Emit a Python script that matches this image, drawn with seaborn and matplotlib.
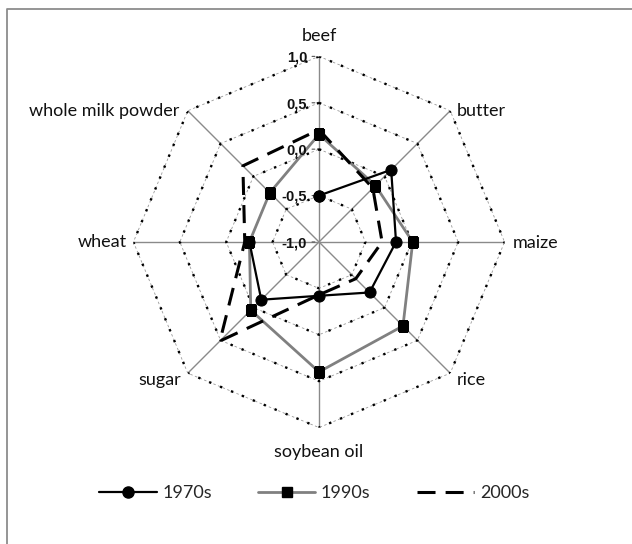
import numpy as np
import pandas as pd
import matplotlib
matplotlib.use("Agg")
import matplotlib.pyplot as plt
from matplotlib.lines import Line2D
import seaborn as sns

# Data (NaN = no value for that decade)
categories = ["beef", "butter", "maize", "rice", "soybean oil",
              "sugar", "wheat", "whole milk powder"]
v1970 = [-0.50, 0.10, -0.17, -0.23, -0.42, -0.12, -0.25, np.nan]
v1990 = [0.16, -0.14, 0.01, 0.28, 0.40, 0.04, -0.25, -0.25]
v2000 = [0.21, -0.18, -0.32, -0.44, -0.43, 0.51, -0.20, 0.16]
series_names = ["1970s", "1990s", "2000s"]
rings = [-0.5, 0.0, 0.5, 1.0]
tick_values = [1.0, 0.5, 0.0, -0.5, -1.0]
tick_labels = ["1,0", "0,5", "0,0", "-0,5", "-1,0"]

sns.set_theme(style="white")
plt.rcParams["font.family"] = ["Lato", "DejaVu Sans"]

angles = np.linspace(0, 2 * np.pi, len(categories), endpoint=False)
closed_angles = np.append(angles, angles[0])


def closed_frame(values):
    """Close the polygon and split it where a value is missing."""
    vals = np.append(values, values[0])
    seg = np.cumsum(np.isnan(vals))
    df = pd.DataFrame({"angle": closed_angles, "value": vals, "seg": seg})
    return df.dropna()


fig = plt.figure(figsize=(6.32, 5.44), dpi=100)
fig.patch.set_facecolor("white")
ax = fig.add_axes([0.2111, 0.2140, 0.5873, 0.6824], projection="polar")
ax.set_theta_offset(np.pi / 2)
ax.set_theta_direction(-1)
ax.set_ylim(-1, 1)
ax.grid(False)
ax.spines["polar"].set_visible(False)
ax.set_xticks([])
ax.set_yticks([])
ax.patch.set_alpha(0)

# spokes and octagonal rings
for a in angles:
    ax.plot([a, a], [-1, 1], color="#8a8a8a", lw=1.0, zorder=1)
for r in rings:
    ax.plot(closed_angles, [r] * len(closed_angles), color="#9a9a9a",
            lw=0.6, linestyle=(0, (3, 3)), zorder=1)
    ax.plot(closed_angles, [r] * len(closed_angles), color="black",
            lw=1.7, linestyle=(0, (1, 4)), zorder=1)

# series
styles = {
    "1990s": dict(color="#808080", mcolor="black", marker="s", markersize=7.5,
                  lw=2.0, zorder=3),
    "1970s": dict(color="black", mcolor="black", marker="o", markersize=8,
                  lw=1.6, zorder=4),
    "2000s": dict(color="black", mcolor="black", marker=None, markersize=0,
                  lw=2.2, zorder=5),
}
data = {"1970s": v1970, "1990s": v1990, "2000s": v2000}
for name in ["1990s", "1970s", "2000s"]:
    st = styles[name]
    n_before = len(ax.lines)
    sns.lineplot(data=closed_frame(data[name]), x="angle", y="value",
                 units="seg", estimator=None, sort=False, ax=ax,
                 color=st["color"], marker=st["marker"],
                 markersize=st["markersize"], markerfacecolor=st["mcolor"],
                 markeredgecolor=st["mcolor"],
                 linewidth=st["lw"], zorder=st["zorder"])
    if name == "2000s":
        for ln in ax.lines[n_before:]:
            ln.set_linestyle((0, (5.9, 3.3)))
ax.set_xlabel("")
ax.set_ylabel("")

# category labels
label_pos = {
    "beef": ((0, 14.5), "center"),
    "butter": ((5, -0.5), "left"),
    "maize": ((6, -0.5), "left"),
    "rice": ((5, -5), "left"),
    "soybean oil": ((0, -17.5), "center"),
    "sugar": ((-5, -5), "right"),
    "wheat": ((-4.6, 0), "right"),
    "whole milk powder": ((-5.8, -0.5), "right"),
}
for a, cat in zip(angles, categories):
    off, ha = label_pos[cat]
    ax.annotate(cat, xy=(a, 1.0), xytext=off, textcoords="offset points",
                ha=ha, va="center", fontsize=13, color="#111111",
                annotation_clip=False)

# radial tick labels along the beef spoke
for v, lab in zip(tick_values, tick_labels):
    ax.annotate(lab, xy=(0, v), xytext=(-8.5, -1), textcoords="offset points",
                ha="right", va="center", fontsize=10.5, fontweight="bold",
                family=["Liberation Sans", "DejaVu Sans"],
                color="#111111", annotation_clip=False)
    ax.annotate("", xy=(0, v), xytext=(-5, 0), textcoords="offset points",
                arrowprops=dict(arrowstyle="-", color="#555555", lw=0.8,
                                shrinkA=0, shrinkB=3),
                annotation_clip=False)

# legend
handles = [
    Line2D([], [], color="black", marker="o", markersize=8, lw=1.6),
    Line2D([], [], color="#808080", marker="s", markersize=7.5,
           markerfacecolor="black", markeredgecolor="black", lw=2.0),
    Line2D([], [], color="black", lw=2.2, linestyle=(0, (5.9, 3.3))),
]
fig.legend(handles, series_names, loc="center", ncol=3, frameon=False,
           bbox_to_anchor=(314 / 632, 1 - 493 / 544), fontsize=13,
           handlelength=3.2, handletextpad=0.3, columnspacing=2.55,
           numpoints=1)

# chart border (left and top edges visible)
fig.add_artist(Line2D([7 / 632, 7 / 632, 1.0], [0.0, 1 - 9 / 544, 1 - 9 / 544],
                      transform=fig.transFigure, color="#8c8c8c", lw=1.3))

fig.savefig("out.png", dpi=100, facecolor="white")
